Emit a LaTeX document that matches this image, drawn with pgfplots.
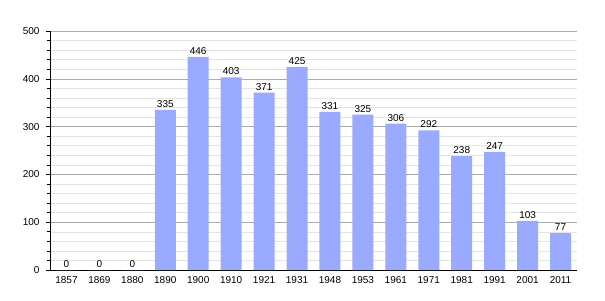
\documentclass[border=0pt]{standalone}
\usepackage{pgfplots}
\pgfplotsset{compat=1.18}
\usepackage{fontspec}
\setmainfont{Liberation Sans}
\definecolor{barblue}{RGB}{153,170,255}
\begin{document}
\fontsize{10}{12}\selectfont
\begin{tikzpicture}[x=1pt,y=1pt]
\useasboundingbox (0,0) rectangle (605,300);
\begin{axis}[
  at={(50pt,30pt)}, anchor=south west,
  scale only axis, width=527pt, height=239pt,
  xmin=-0.5, xmax=15.5, ymin=0, ymax=500,
  axis lines*=left,
  axis line style={black, line width=0.8pt, -},
  xtick=data,
  xticklabels={1857,1869,1880,1890,1900,1910,1921,1931,1948,1953,1961,1971,1981,1991,2001,2011},
  x tick style={draw=none},
  ytick={0,100,...,500},
  minor ytick={20,40,...,480},
  tick align=outside,
  major tick length=4pt, minor tick length=3pt,
  y tick style={black, line width=0.6pt},
  ymajorgrids, yminorgrids,
  major grid style={gray!65, line width=0.6pt},
  minor grid style={gray!20, line width=0.5pt},
  tick label style={font=\fontsize{10}{12}\selectfont},
  /pgf/number format/assume math mode=true,
  yticklabel style={xshift=-3pt},
  xticklabel style={yshift=1pt},
  ybar, bar width=21pt,
  nodes near coords,
  nodes near coords style={font=\fontsize{10}{12}\selectfont, yshift=-1pt},
  clip=false,
]
\addplot[fill=barblue, draw=none] coordinates {
(0,0) (1,0) (2,0) (3,335) (4,446) (5,403) (6,371) (7,425) (8,331) (9,325) (10,306) (11,292) (12,238) (13,247) (14,103) (15,77)};
\end{axis}
\end{tikzpicture}
\end{document}
